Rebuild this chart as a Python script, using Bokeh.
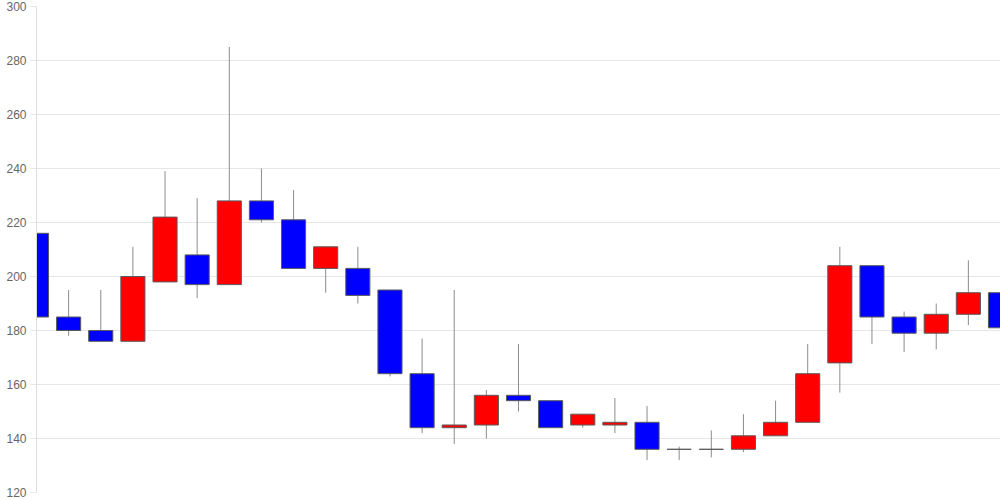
from bokeh.plotting import figure
from bokeh.models import ColumnDataSource, Range1d, FixedTicker
from bokeh.embed import file_html
from bokeh.resources import INLINE

# Daily candles (31 sessions)
opens = [216, 185, 180, 176, 198, 208, 197, 228, 221, 203, 203, 195, 164, 144, 145, 156,
         154, 145, 145, 146, 136, 136, 136, 141, 146, 168, 204, 185, 179, 186, 194]
closes = [185, 180, 176, 200, 222, 197, 228, 221, 203, 211, 193, 164, 144, 145, 156, 154,
          144, 149, 146, 136, 136, 136, 141, 146, 164, 204, 185, 179, 186, 194, 181]
highs = [216, 195, 195, 211, 239, 229, 285, 240, 232, 211, 211, 195, 177, 195, 158, 175,
         154, 149, 155, 152, 137, 143, 149, 154, 175, 211, 204, 187, 190, 206, 205]
lows = [166, 178, 176, 176, 198, 192, 197, 220, 203, 194, 190, 163, 142, 138, 140, 150,
        144, 144, 142, 132, 132, 133, 135, 141, 146, 157, 175, 172, 173, 182, 169]
y_ticks = [120, 140, 160, 180, 200, 220, 240, 260, 280, 300]

idx = list(range(len(opens)))
colors = ["#FF0000" if c > o else ("#0000FF" if c < o else "#FFFFFF") for o, c in zip(opens, closes)]
src = ColumnDataSource(dict(x=idx, open=opens, close=closes, high=highs, low=lows, color=colors))

p = figure(width=1000, height=500, output_backend="svg", toolbar_location=None,
           x_range=Range1d(0, 30), y_range=Range1d(120, 300),
           min_border_left=36, min_border_right=0, min_border_top=6, min_border_bottom=8)
p.outline_line_color = None
p.background_fill_color = "white"
p.border_fill_color = "white"

p.xaxis.visible = False
p.xgrid.visible = False
p.ygrid.grid_line_color = "#e6e6e6"
p.ygrid.grid_line_width = 1

yax = p.yaxis[0]
yax.ticker = FixedTicker(ticks=y_ticks)
yax.axis_line_color = "#dddddd"
yax.major_tick_line_color = "#e6e6e6"
yax.major_tick_out = 6
yax.major_tick_in = 0
yax.minor_tick_line_color = None
yax.major_label_standoff = 4
yax.major_label_text_font = "Liberation Sans"
yax.major_label_text_font_size = "12px"
yax.major_label_text_color = "#666666"

p.segment(x0="x", y0="high", x1="x", y1="low", source=src, line_color="#8c8c8c", line_width=1)
p.vbar(x="x", top="open", bottom="close", width=0.75, source=src,
       fill_color="color", line_color="#5a5a5a", line_width=1)

open("out.html", "w").write(file_html(p, INLINE))
